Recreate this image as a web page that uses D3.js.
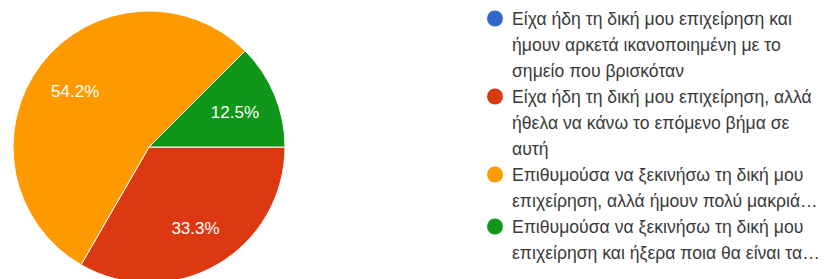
<!DOCTYPE html>
<html>
<head>
<meta charset="utf-8">
<script src="https://cdn.jsdelivr.net/npm/d3@7"></script>
<style>
  body { margin: 0; background: #fff; }
  text { font-family: "Liberation Sans", Arial, sans-serif; }
</style>
</head>
<body>
<div id="chartContainer"></div>
<script>
// answers (24 responses)
var categories = [
    "Είχα ήδη τη δική μου επιχείρηση και ήμουν αρκετά ικανοποιημένη με το σημείο που βρισκόταν",
    "Είχα ήδη τη δική μου επιχείρηση, αλλά ήθελα να κάνω το επόμενο βήμα σε αυτή",
    "Επιθυμούσα να ξεκινήσω τη δική μου επιχείρηση, αλλά ήμουν πολύ μακριά…",
    "Επιθυμούσα να ξεκινήσω τη δική μου επιχείρηση και ήξερα ποια θα είναι τα…"
];
var values = [0, 8, 13, 3];
var pctLabels = ["0%", "33.3%", "54.2%", "12.5%"];
// legend text, already wrapped like the original
var legendLines = [
    ["Είχα ήδη τη δική μου επιχείρηση και", "ήμουν αρκετά ικανοποιημένη με το", "σημείο που βρισκόταν"],
    ["Είχα ήδη τη δική μου επιχείρηση, αλλά", "ήθελα να κάνω το επόμενο βήμα σε", "αυτή"],
    ["Επιθυμούσα να ξεκινήσω τη δική μου", "επιχείρηση, αλλά ήμουν πολύ μακριά…"],
    ["Επιθυμούσα να ξεκινήσω τη δική μου", "επιχείρηση και ήξερα ποια θα είναι τα…"]
];
var colors = ["#3366cc", "#dc3912", "#ff9900", "#109618"];

var width = 836, height = 279;
var svg = d3.select("#chartContainer").append("svg")
    .attr("width", width)
    .attr("height", height);

var cx = 149, cy = 147, radius = 136;

var data = categories.map(function(c, i){
    return {name: c, value: values[i], label: pctLabels[i], color: colors[i]};
});

var pie = d3.pie()
    .value(function(d){ return d.value; })
    .sort(null)
    .startAngle(Math.PI / 2)
    .endAngle(Math.PI / 2 + 2 * Math.PI);

var arc = d3.arc().innerRadius(0).outerRadius(radius);
var labelArc = d3.arc().innerRadius(93).outerRadius(93);

var g = svg.append("g").attr("transform", "translate(" + cx + "," + cy + ")");

var slices = pie(data).filter(function(d){ return d.data.value > 0; });

g.selectAll("path")
    .data(slices)
    .enter()
    .append("path")
    .attr("d", arc)
    .attr("fill", function(d){ return d.data.color; })
    .attr("stroke", "#fff")
    .attr("stroke-width", 1);

g.selectAll("text.pct")
    .data(slices)
    .enter()
    .append("text")
    .attr("class", "pct")
    .attr("transform", function(d){ return "translate(" + labelArc.centroid(d) + ")"; })
    .attr("text-anchor", "middle")
    .attr("dy", "0.36em")
    .attr("fill", "#fff")
    .style("font-size", "17px")
    .text(function(d){ return d.data.label; });

// Legend
var legendX = 495, textX = 512, firstY = 18.5, lineH = 26;
var legend = svg.append("g");
var row = 0;
data.forEach(function(d, i){
    var y = firstY + row * lineH;
    legend.append("circle")
        .attr("cx", legendX)
        .attr("cy", y)
        .attr("r", 8)
        .attr("fill", d.color);
    legendLines[i].forEach(function(line, j){
        legend.append("text")
            .attr("x", textX)
            .attr("y", y + j * lineH)
            .attr("dy", "0.36em")
            .attr("fill", "#3a3a3a")
            .style("font-size", "17.6px")
            .text(line);
    });
    row += legendLines[i].length;
});
</script>
</body>
</html>
